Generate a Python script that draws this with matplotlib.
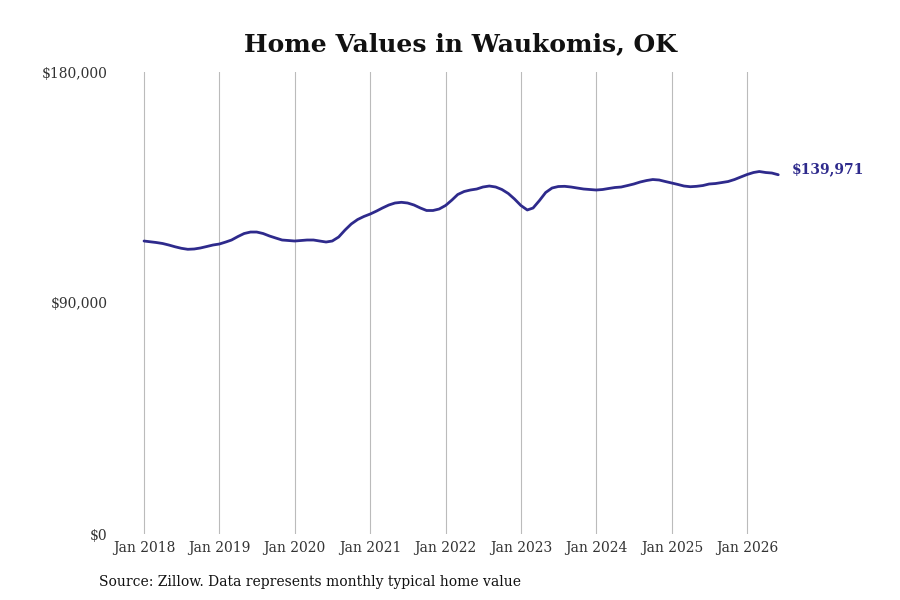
import matplotlib
matplotlib.use("Agg")
import matplotlib.pyplot as plt
import matplotlib.dates as mdates
import numpy as np
import pandas as pd

# Monthly typical home value (Jan 2018 .. Jun 2026)
start_month = "2018-01-01"
values = [
    114150, 113840, 113570, 113180, 112590, 111890, 111310, 110920, 111040, 111430,
    112010, 112590, 112980, 113760, 114540, 115900, 117070, 117650, 117650, 117070,
    116100, 115320, 114540, 114350, 114150, 114350, 114540, 114540, 114150, 113760,
    114150, 115710, 118440, 120780, 122530, 123700, 124670, 125840, 127010, 128180,
    128960, 129230, 128960, 128180, 127010, 126040, 126040, 126620, 127990, 130130,
    132270, 133440, 134020, 134410, 135190, 135580, 135190, 134220, 132660, 130520,
    127990, 126240, 127010, 129930, 133050, 134800, 135380, 135460, 135190, 134800,
    134410, 134220, 134020, 134220, 134610, 135000, 135190, 135770, 136360, 137140,
    137720, 138110, 137920, 137330, 136750, 136160, 135580, 135300, 135460, 135770,
    136360, 136550, 136940, 137330, 138110, 139080, 140060, 140840, 141230, 140840,
    140640, 139971,
]
x_tick_labels = ["Jan 2018", "Jan 2019", "Jan 2020", "Jan 2021", "Jan 2022",
                 "Jan 2023", "Jan 2024", "Jan 2025", "Jan 2026"]
y_ticks = [0, 90000, 180000]
y_tick_labels = ["$0", "$90,000", "$180,000"]
title = "Home Values in Waukomis, OK"
source = "Source: Zillow. Data represents monthly typical home value"
last_label = "$139,971"

dates = pd.date_range(start_month, periods=len(values), freq="MS")
tick_dates = pd.to_datetime([f"{y}-01-01" for y in range(2018, 2027)])

plt.rcParams["font.family"] = ["DejaVu Serif"]
line_color = "#2e2a8c"

fig = plt.figure(figsize=(9, 6), dpi=100)
ax = fig.add_axes([117 / 900, 1 - 534 / 600, (783 - 117) / 900, (534 - 72) / 600])

ax.plot(dates, values, color=line_color, linewidth=2.0, solid_capstyle="round")

ax.set_xlim(pd.Timestamp("2018-01-01") - pd.Timedelta(days=131),
            pd.Timestamp("2026-01-01") + pd.Timedelta(days=174))
ax.set_ylim(0, 180000)

ax.set_xticks(tick_dates)
ax.set_xticklabels(x_tick_labels, fontsize=10, color="#333333")
ax.set_yticks(y_ticks)
ax.set_yticklabels(y_tick_labels, fontsize=10, color="#333333")
ax.tick_params(axis="both", length=0)
ax.tick_params(axis="x", pad=5)
ax.tick_params(axis="y", pad=7)

ax.grid(axis="x", color="#bbbbbb", linewidth=0.8)
ax.grid(axis="y", visible=False)
for s in ax.spines.values():
    s.set_visible(False)

ax.annotate(last_label, xy=(dates[-1], values[-1]), xytext=(10, 4),
            textcoords="offset points", fontsize=10, fontweight="bold",
            color=line_color, va="center", ha="left", annotation_clip=False)

fig.text(461 / 900, 1 - 44 / 600, title, fontsize=18, fontweight="bold",
         ha="center", va="center", color="#111111")
fig.text(99 / 900, 1 - 582 / 600, source, fontsize=10, ha="left", va="center",
         color="#111111")

fig.savefig("out.png", dpi=100, facecolor="white")
